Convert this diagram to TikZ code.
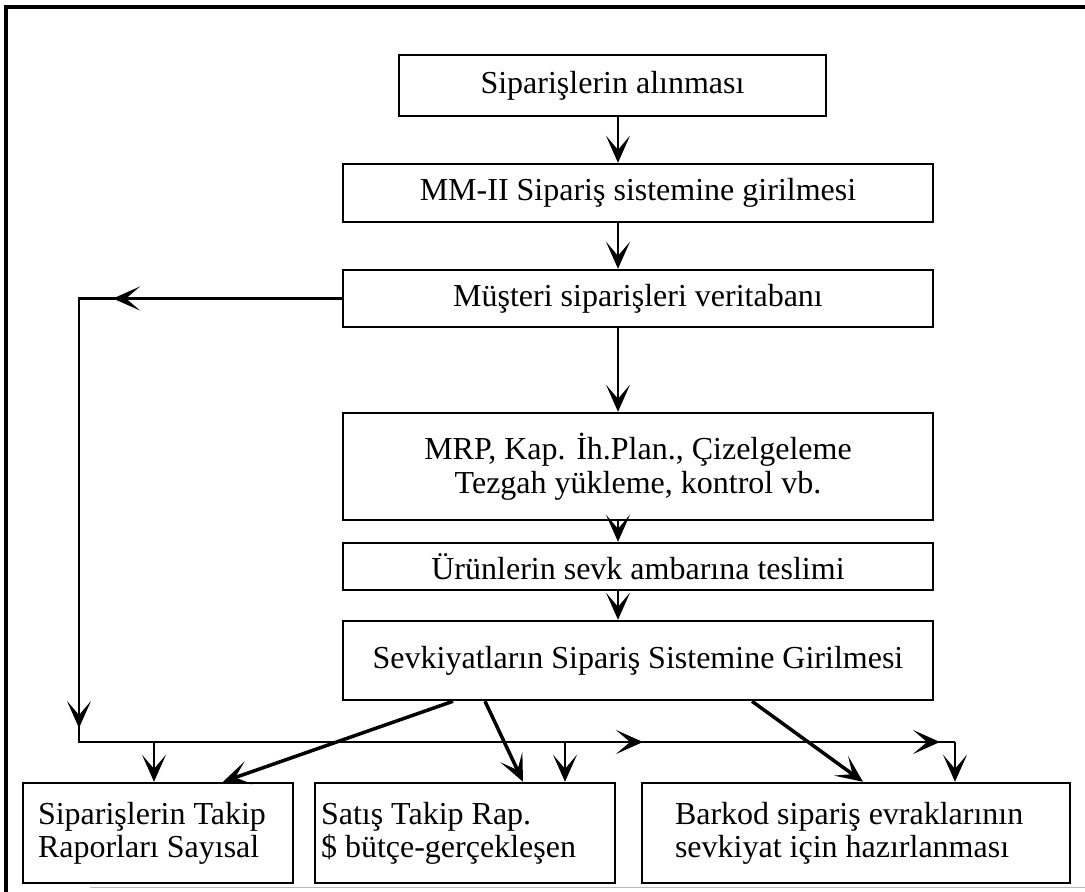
\documentclass[tikz,border=0pt]{standalone}
\usepackage{fontspec}
\setmainfont{Liberation Serif}
\usetikzlibrary{arrows.meta}
\begin{document}
\begin{tikzpicture}[x=1pt,y=-1pt,
  box/.style={draw,line width=2.5pt,inner sep=0pt,align=center,
    font=\fontsize{32}{34}\selectfont},
  repbox/.style={draw,line width=2.5pt,inner ysep=0pt,minimum height=100pt,
    align=flush left,font=\fontsize{32}{33}\selectfont},
  link/.style={line width=2.5pt},
  heavy/.style={line width=3.5pt},
  arr/.style={-{Stealth[length=27pt,width=24pt,inset=14pt]}}]
\useasboundingbox (0,0) rectangle (1085,892);

% frame
\draw[line width=4pt] (6,892) -- (6,7) -- (1085,7);
\draw[gray!55,line width=1pt] (90,887) -- (1085,887);

% main chain
\node[box,minimum width=427pt,minimum height=61pt] (b1) at (612.5,85.5) {Siparişlerin alınması};
\node[box,minimum width=590pt,minimum height=58pt] (b2) at (638,193) {MM-II Sipariş sistemine girilmesi};
\node[box,minimum width=590pt,minimum height=57pt] (b3) at (638,298.5) {Müşteri siparişleri veritabanı};
\node[box,minimum width=590pt,minimum height=107pt] (b4) at (638,466.5) {MRP, Kap. İh.Plan., Çizelgeleme\\Tezgah yükleme, kontrol vb.};
\node[box,minimum width=590pt,minimum height=47pt] (b5) at (638,566.5) {Ürünlerin sevk ambarına teslimi};
\node[box,minimum width=590pt,minimum height=79pt] (b6) at (638,660.5) {Sevkiyatların Sipariş Sistemine Girilmesi};

% report boxes
\node[repbox,inner xsep=15pt,text width=240pt] (bA) at (158,833) {Siparişlerin Takip\\Raporları Sayısal};
\node[repbox,inner xsep=6pt,text width=288pt] (bB) at (465,833) {Satış Takip Rap.\\\$ bütçe-gerçekleşen};
\node[repbox,inner xsep=33pt,text width=362pt] (bC) at (856,833) {Barkod sipariş evraklarının\\sevkiyat için hazırlanması};

% vertical flow
\coordinate (ax) at (618,0);
\draw[link,arr] (b1.south -| ax) -- (b2.north -| ax);
\draw[link,arr] (b2.south -| ax) -- (b3.north -| ax);
\draw[link,arr] (b3.south -| ax) -- (b4.north -| ax);
\draw[link,arr] (b4.south -| ax) -- (b5.north -| ax);
\draw[link,arr] (b5.south -| ax) -- (b6.north -| ax);

% feedback line from the database
\coordinate (fbTop) at (79,298.5);
\coordinate (fbBot) at (79,742);
\coordinate (dA) at (154,742);
\coordinate (dB) at (565,742);
\coordinate (dC) at (955,742);
\coordinate (tipL) at (113,298.5);
\coordinate (tipD) at (79,728);
\coordinate (tipR1) at (643,742);
\coordinate (tipR2) at (940,742);
\draw[link] (b3.west) -- (fbTop) -- (fbBot) -- (dC);
\draw[link,arr] (b3.west) -- (tipL);
\draw[link,arr] (fbTop) -- (tipD);
\draw[link,arr] (fbBot) -- (tipR1);
\draw[link,arr] (fbBot) -- (tipR2);
\draw[link,arr] (dA) -- (dA |- bA.north);
\draw[link,arr] (dB) -- (dB |- bB.north);
\draw[link,arr] (dC) -- (dC |- bC.north);

% shipments to reports
\coordinate (s1) at (453,0);
\coordinate (s2) at (485,0);
\coordinate (s3) at (752,0);
\coordinate (e1) at (223,0);
\coordinate (e2) at (523,0);
\coordinate (e3) at (863,0);
\draw[heavy,arr] (b6.south -| s1) -- (bA.north -| e1);
\draw[heavy,arr] (b6.south -| s2) -- (bB.north -| e2);
\draw[heavy,arr] (b6.south -| s3) -- (bC.north -| e3);
\end{tikzpicture}
\end{document}
